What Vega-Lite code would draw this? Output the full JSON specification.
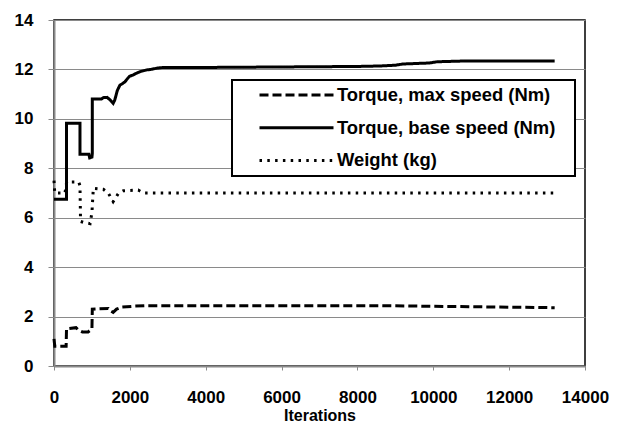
{
  "$schema": "https://vega.github.io/schema/vega-lite/v6.json",
  "width": 531,
  "height": 346,
  "autosize": {"type": "none"},
  "padding": {"left": 54, "top": 20, "right": 33, "bottom": 60},
  "background": "white",
  "config": {
    "view": {"stroke": "black", "strokeWidth": 1.5},
    "font": "Liberation Sans",
    "axis": {
      "labelFont": "Liberation Sans",
      "labelFontWeight": "bold",
      "labelFontSize": 17,
      "labelColor": "black",
      "titleFont": "Liberation Sans",
      "titleFontWeight": "bold",
      "titleFontSize": 16,
      "titleColor": "black",
      "domainColor": "#8a8a8a",
      "domainWidth": 2,
      "tickColor": "#8a8a8a",
      "tickWidth": 1
    },
    "legend": {"strokeWidth": 2}
  },
  "data": {
    "values": [
      {"s": "Torque, max speed (Nm)", "it": 0, "v": 1.1},
      {"s": "Torque, max speed (Nm)", "it": 20, "v": 0.8},
      {"s": "Torque, max speed (Nm)", "it": 320, "v": 0.8},
      {"s": "Torque, max speed (Nm)", "it": 330, "v": 1.5},
      {"s": "Torque, max speed (Nm)", "it": 580, "v": 1.55},
      {"s": "Torque, max speed (Nm)", "it": 650, "v": 1.45},
      {"s": "Torque, max speed (Nm)", "it": 750, "v": 1.38},
      {"s": "Torque, max speed (Nm)", "it": 900, "v": 1.38},
      {"s": "Torque, max speed (Nm)", "it": 1000, "v": 1.5},
      {"s": "Torque, max speed (Nm)", "it": 1010, "v": 2.3},
      {"s": "Torque, max speed (Nm)", "it": 1430, "v": 2.33},
      {"s": "Torque, max speed (Nm)", "it": 1470, "v": 2.25},
      {"s": "Torque, max speed (Nm)", "it": 1560, "v": 2.17},
      {"s": "Torque, max speed (Nm)", "it": 1650, "v": 2.3},
      {"s": "Torque, max speed (Nm)", "it": 1780, "v": 2.38},
      {"s": "Torque, max speed (Nm)", "it": 2100, "v": 2.42},
      {"s": "Torque, max speed (Nm)", "it": 2400, "v": 2.44},
      {"s": "Torque, max speed (Nm)", "it": 8600, "v": 2.44},
      {"s": "Torque, max speed (Nm)", "it": 13200, "v": 2.36},

      {"s": "Torque, base speed (Nm)", "it": 0, "v": 6.75},
      {"s": "Torque, base speed (Nm)", "it": 330, "v": 6.75},
      {"s": "Torque, base speed (Nm)", "it": 330, "v": 9.82},
      {"s": "Torque, base speed (Nm)", "it": 685, "v": 9.82},
      {"s": "Torque, base speed (Nm)", "it": 685, "v": 8.57},
      {"s": "Torque, base speed (Nm)", "it": 920, "v": 8.57},
      {"s": "Torque, base speed (Nm)", "it": 940, "v": 8.42},
      {"s": "Torque, base speed (Nm)", "it": 1000, "v": 8.45},
      {"s": "Torque, base speed (Nm)", "it": 1010, "v": 8.6},
      {"s": "Torque, base speed (Nm)", "it": 1010, "v": 10.8},
      {"s": "Torque, base speed (Nm)", "it": 1250, "v": 10.8},
      {"s": "Torque, base speed (Nm)", "it": 1300, "v": 10.86},
      {"s": "Torque, base speed (Nm)", "it": 1400, "v": 10.87},
      {"s": "Torque, base speed (Nm)", "it": 1470, "v": 10.78},
      {"s": "Torque, base speed (Nm)", "it": 1560, "v": 10.63},
      {"s": "Torque, base speed (Nm)", "it": 1600, "v": 10.75},
      {"s": "Torque, base speed (Nm)", "it": 1670, "v": 11.15},
      {"s": "Torque, base speed (Nm)", "it": 1740, "v": 11.37},
      {"s": "Torque, base speed (Nm)", "it": 1800, "v": 11.42},
      {"s": "Torque, base speed (Nm)", "it": 1870, "v": 11.5},
      {"s": "Torque, base speed (Nm)", "it": 1950, "v": 11.65},
      {"s": "Torque, base speed (Nm)", "it": 1990, "v": 11.72},
      {"s": "Torque, base speed (Nm)", "it": 2090, "v": 11.78},
      {"s": "Torque, base speed (Nm)", "it": 2180, "v": 11.85},
      {"s": "Torque, base speed (Nm)", "it": 2270, "v": 11.91},
      {"s": "Torque, base speed (Nm)", "it": 2440, "v": 11.98},
      {"s": "Torque, base speed (Nm)", "it": 2550, "v": 12.0},
      {"s": "Torque, base speed (Nm)", "it": 2710, "v": 12.05},
      {"s": "Torque, base speed (Nm)", "it": 2880, "v": 12.08},
      {"s": "Torque, base speed (Nm)", "it": 4000, "v": 12.08},
      {"s": "Torque, base speed (Nm)", "it": 6000, "v": 12.1},
      {"s": "Torque, base speed (Nm)", "it": 8000, "v": 12.12},
      {"s": "Torque, base speed (Nm)", "it": 8600, "v": 12.14},
      {"s": "Torque, base speed (Nm)", "it": 9000, "v": 12.17},
      {"s": "Torque, base speed (Nm)", "it": 9200, "v": 12.22},
      {"s": "Torque, base speed (Nm)", "it": 9900, "v": 12.26},
      {"s": "Torque, base speed (Nm)", "it": 10100, "v": 12.31},
      {"s": "Torque, base speed (Nm)", "it": 10800, "v": 12.34},
      {"s": "Torque, base speed (Nm)", "it": 13200, "v": 12.34},

      {"s": "Weight (kg)", "it": 0, "v": 7.5},
      {"s": "Weight (kg)", "it": 20, "v": 7.0},
      {"s": "Weight (kg)", "it": 290, "v": 7.0},
      {"s": "Weight (kg)", "it": 335, "v": 7.45},
      {"s": "Weight (kg)", "it": 650, "v": 7.45},
      {"s": "Weight (kg)", "it": 685, "v": 7.3},
      {"s": "Weight (kg)", "it": 700, "v": 5.85},
      {"s": "Weight (kg)", "it": 800, "v": 5.8},
      {"s": "Weight (kg)", "it": 950, "v": 5.76},
      {"s": "Weight (kg)", "it": 1000, "v": 6.2},
      {"s": "Weight (kg)", "it": 1037, "v": 7.19},
      {"s": "Weight (kg)", "it": 1300, "v": 7.15},
      {"s": "Weight (kg)", "it": 1430, "v": 7.0},
      {"s": "Weight (kg)", "it": 1560, "v": 6.65},
      {"s": "Weight (kg)", "it": 1700, "v": 6.99},
      {"s": "Weight (kg)", "it": 1830, "v": 7.09},
      {"s": "Weight (kg)", "it": 2220, "v": 7.12},
      {"s": "Weight (kg)", "it": 2360, "v": 7.0},
      {"s": "Weight (kg)", "it": 13200, "v": 7.0}
    ]
  },
  "mark": {"type": "line", "color": "black", "strokeWidth": 3, "strokeCap": "butt", "strokeJoin": "miter"},
  "encoding": {
    "x": {
      "field": "it",
      "type": "quantitative",
      "scale": {"domain": [0, 14000], "nice": false},
      "axis": {
        "title": "Iterations",
        "values": [0, 2000, 4000, 6000, 8000, 10000, 12000, 14000],
        "format": "d",
        "grid": false,
        "tickSize": 4,
        "labelPadding": 19,
        "titlePadding": 2,
        "labelFlush": false
      }
    },
    "y": {
      "field": "v",
      "type": "quantitative",
      "scale": {"domain": [0, 14], "nice": false},
      "axis": {
        "title": null,
        "values": [0, 2, 4, 6, 8, 10, 12, 14],
        "grid": true,
        "gridColor": "#8a8a8a",
        "gridWidth": 1,
        "gridOpacity": 1,
        "tickSize": 6,
        "labelPadding": 15,
        "labelFlush": false
      }
    },
    "strokeDash": {
      "field": "s",
      "type": "nominal",
      "scale": {
        "domain": ["Torque, max speed (Nm)", "Torque, base speed (Nm)", "Weight (kg)"],
        "range": [[9, 4], [1, 0], [2.5, 5.3]]
      },
      "legend": {
        "title": null,
        "orient": "none",
        "legendX": 178,
        "legendY": 60,
        "padding": 6,
        "strokeColor": "black",
        "fillColor": "white",
        "symbolType": "stroke",
        "symbolSize": 5476,
        "symbolStrokeWidth": 3,
        "symbolStrokeColor": "black",
        "symbolOffset": 20,
        "clipHeight": 18,
        "rowPadding": 13.7,
        "labelOffset": 2,
        "labelFont": "Liberation Sans",
        "labelFontWeight": "bold",
        "labelFontSize": 18.4,
        "labelColor": "black",
        "labelLimit": 400,
        "labelExpr": "datum.label + '\u2800'"
      }
    },
    "order": {"value": null}
  }
}
